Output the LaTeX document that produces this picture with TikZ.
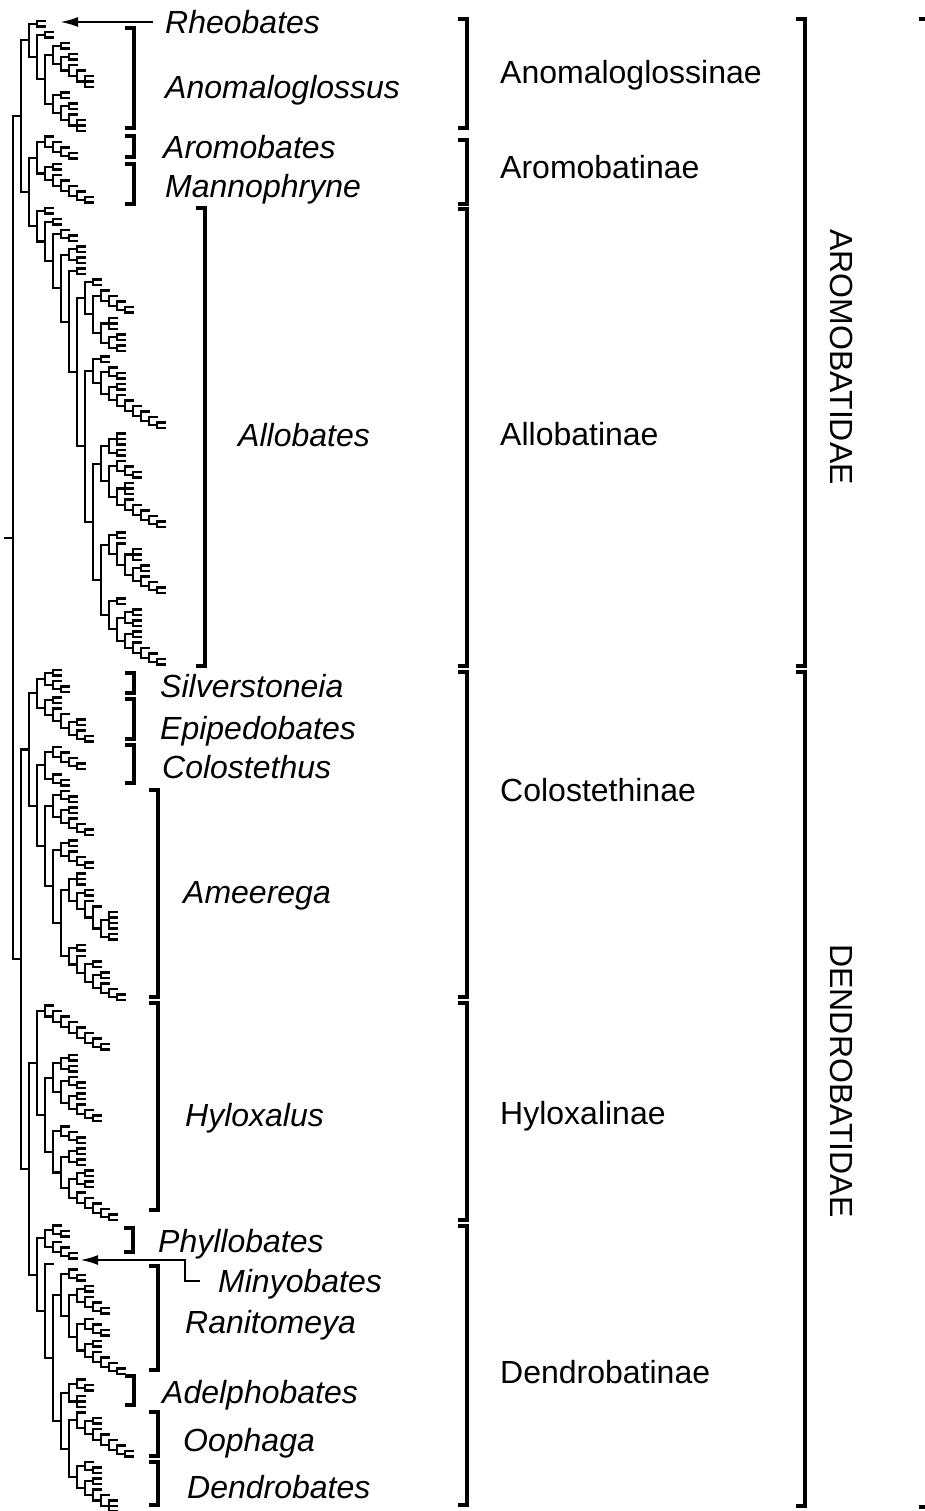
\documentclass[tikz,border=0pt]{standalone}
\usepackage{fontspec}
\setmainfont{Liberation Sans}
\usetikzlibrary{arrows.meta}

\newcount\leafno
\def\xstep{8}
\def\leafsep{5.5}
\def\ytop{21}

% reads a bracket string: ( opens a node, x is a leaf, ) closes a node
\def\growtree#1{\edef\treestr{#1}\expandafter\readtree\treestr;}
\def\readtree#1{%
  \ifx;#1\let\next\relax
  \else
    \if(#1\opennode\fi
    \if x#1\putleaf\fi
    \if)#1\closenode\fi
    \let\next\readtree
  \fi\next}
\def\opennode{\begingroup
  \let\parx\curx
  \pgfmathsetmacro\curx{\curx+\xstep}%
  \let\firsty\empty}
\def\putleaf{%
  \pgfmathsetmacro\leafy{\ytop+\leafsep*\the\leafno}%
  \draw[branch] (\curx,\leafy) -- ++(\xstep,0);
  \ifx\firsty\empty\let\firsty\leafy\fi
  \global\let\lasty\leafy
  \global\advance\leafno by 1\relax}
\def\closenode{%
  \pgfmathsetmacro\nodey{(\firsty+\lasty)/2}%
  \draw[branch] (\curx,\firsty) -- (\curx,\lasty);
  \draw[branch] (\parx,\nodey) -- (\curx,\nodey);
  \global\let\lasty\nodey
  \endgroup
  \ifx\firsty\empty\let\firsty\lasty\fi}

% clades
\def\rheo{(x,x)}
\def\anom{((x,x),(((x,x),((x,x),(x,(x,(x,x,x))))),((x,x),((x,x),(x,(x,x,x))))))}
\def\arom{(x,(x,(x,(x,x))))}
\def\mann{((x,x),(x,(x,(x,(x,(x,x))))))}
\def\alloa{((x,x),((x,(x,(x,(x,x)))),((x,x,x),((x,x),(x,x)))))}
\def\allob{((x,x),((x,(x,x)),((x,x),(x,(x,(x,(x,(x,(x,x)))))))))}
\def\alloc{(((x,x,x),(x,x)),((x,(x,(x,x))),((x,x,x),(x,(x,(x,(x,(x,x))))))))}
\def\allod{((x,x),(x,((x,x,x),((x,x),(x,(x,(x,x)))))))}
\def\alloe{((x,x),(((x,x),(x,x)),((x,x),(x,(x,(x,(x,x)))))))}
\def\allo{((x,x),((x,x),((x,(x,x)),(((x,x),(x,x)),((x,x),(\alloa,(\allob,(\alloc,(\allod,\alloe)))))))))}
\def\silv{((x,x),(x,(x,x)))}
\def\epip{((x,x),(x,(x,((x,x),(x,(x,x))))))}
\def\colo{((x,(x,(x,(x,x)))),(x,(x,x)))}
\def\ameea{((x,(x,x)),((x,x),(x,(x,(x,x)))))}
\def\ameeb{((x,x),(x,(x,(x,x))))}
\def\ameec{((x,x,x),((x,x),(x,(x,((x,x,x,x),(x,x))))))}
\def\ameed{((x,x),(x,((x,x),((x,x),(x,(x,(x,x)))))))}
\def\amee{(\ameea,(\ameeb,(\ameec,\ameed)))}
\def\hyloa{(x,(x,(x,(x,(x,(x,(x,(x,x))))))))}
\def\hylob{(((x,x),(x,x)),((x,(x,x)),((x,x),(x,(x,(x,x))))))}
\def\hyloc{((x,(x,(x,x))),(((x,x),(x,x)),(((x,x),(x,x)),(x,(x,(x,(x,(x,x))))))))}
\def\hylo{(\hyloa,(\hylob,\hyloc))}
\def\phyl{((x,(x,x)),(x,(x,(x,x))))}
\def\rani{((x,(x,x)),(((x,x),(x,(x,(x,x)))),((x,(x,(x,x))),((x,x),(x,(x,(x,(x,x))))))))}
\def\adel{((x,(x,x)),(x,x,x))}
\def\ooph{(x,((x,x),(x,(x,(x,(x,(x,x)))))))}
\def\dend{((x,(x,x)),((x,x),(x,(x,(x,x,x)))))}

\begin{document}
\begin{tikzpicture}[x=1pt, y=-1pt,
  branch/.style={line width=2.1pt, line cap=rect},
  bracket/.style={line width=3.2pt},
  pointer/.style={line width=2.4pt, -{Latex[length=18pt,width=10pt]}},
  genus/.style={anchor=west, inner sep=0pt, text height=23pt, text depth=0pt,
    font=\fontsize{32}{38}\selectfont\itshape},
  subfam/.style={anchor=west, inner sep=0pt, text height=23pt, text depth=0pt,
    font=\fontsize{32}{38}\selectfont},
  family/.style={inner sep=0pt, rotate=-90, font=\fontsize{32}{38}\selectfont}]
\useasboundingbox (0,0) rectangle (925,1511);

% tree
\def\curx{5}
\growtree{(((\rheo,\anom),((\arom,\mann),\allo)),(((\silv,\epip),(\colo,\amee)),(\hylo,(\phyl,(x,(\rani,(\adel,(\ooph,\dend))))))))}

% genera
\node[genus] (rheo) at (165,22) {Rheobates};
\node[genus] (anom) at (165,87) {Anomaloglossus};
\node[genus] (arom) at (163,147) {Aromobates};
\node[genus] (mann) at (165,186) {Mannophryne};
\node[genus] (allo) at (238,435) {Allobates};
\node[genus] (silv) at (160,686) {Silverstoneia};
\node[genus] (epip) at (160,728) {Epipedobates};
\node[genus] (colo) at (162,767) {Colostethus};
\node[genus] (amee) at (183,892) {Ameerega};
\node[genus] (hylo) at (185,1115) {Hyloxalus};
\node[genus] (phyl) at (158,1241) {Phyllobates};
\node[genus] (miny) at (218,1281) {Minyobates};
\node[genus] (rani) at (185,1322) {Ranitomeya};
\node[genus] (adel) at (162,1392) {Adelphobates};
\node[genus] (ooph) at (183,1440) {Oophaga};
\node[genus] (dend) at (187,1487) {Dendrobates};

\coordinate (rheotip) at (60,22);
\coordinate (minytip) at (80,1260);
\draw[pointer] ([xshift=-12pt]rheo.west) -- (rheotip);
\draw[pointer] ([xshift=-18pt]miny.west) -- ++(-15,0) |- (minytip);

\newcommand{\cladebar}[3]{\draw[bracket] (#1-9,#2) -| (#1,#3) -- (#1-9,#3);}
\cladebar{134}{28}{128}
\cladebar{134}{136}{157}
\cladebar{134}{164}{204}
\cladebar{205}{208}{666}
\cladebar{134}{673}{693}
\cladebar{134}{699}{739}
\cladebar{134}{745}{783}
\cladebar{158}{790}{997}
\cladebar{158}{1003}{1210}
\cladebar{133}{1228}{1252}
\cladebar{158}{1266}{1370}
\cladebar{134}{1376}{1405}
\cladebar{158}{1412}{1456}
\cladebar{158}{1462}{1505}

% subfamilies
\node[subfam] (anomsf) at (500,72) {Anomaloglossinae};
\node[subfam] (aromsf) at (500,167) {Aromobatinae};
\node[subfam] (allosf) at (500,434) {Allobatinae};
\node[subfam] (colosf) at (500,790) {Colostethinae};
\node[subfam] (hylosf) at (500,1113) {Hyloxalinae};
\node[subfam] (dendsf) at (500,1372) {Dendrobatinae};
\cladebar{467}{19}{128}
\cladebar{467}{140}{204}
\cladebar{467}{209}{666}
\cladebar{467}{672}{997}
\cladebar{467}{1003}{1220}
\cladebar{467}{1226}{1505}

% families
\node[family] (aromfam) at (842,357) {AROMOBATIDAE};
\node[family] (dendfam) at (842,1081) {DENDROBATIDAE};
\cladebar{805}{19}{666}
\cladebar{805}{672}{1506}
\draw[bracket] (919,19) -- (925,19);
\draw[bracket] (919,1507) -- (925,1507);
\end{tikzpicture}
\end{document}
